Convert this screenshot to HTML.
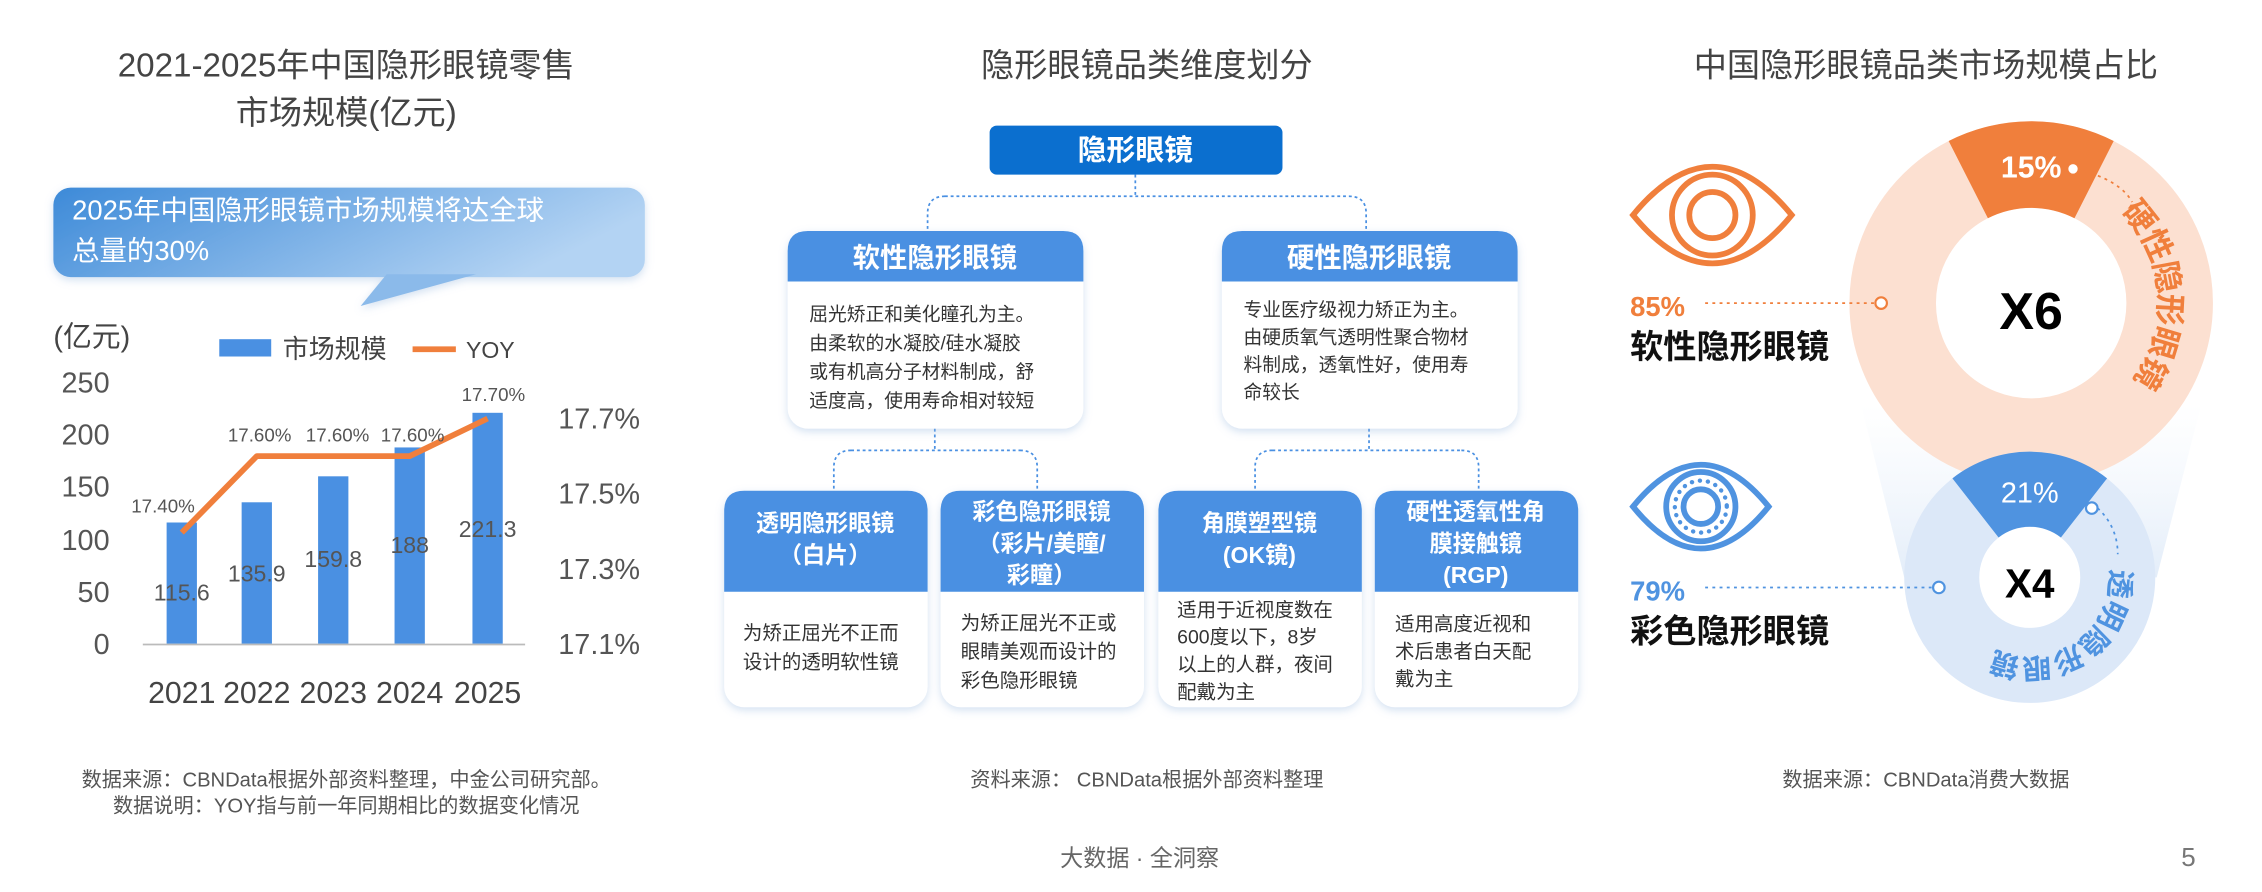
<!DOCTYPE html>
<html><head><meta charset="utf-8"><style>
html,body{margin:0;padding:0;background:#fff;}
svg{display:block;}
text{font-family:"Liberation Sans","Noto Sans CJK SC",sans-serif;}
</style></head><body>
<svg width="2262" height="892" viewBox="0 0 1568 618" preserveAspectRatio="none" xmlns="http://www.w3.org/2000/svg">
<defs>
<linearGradient id="cg" x1="0" y1="0" x2="1" y2="0.3"><stop offset="0" stop-color="#3d8ad8"/><stop offset="1" stop-color="#b3d3f3"/></linearGradient>
<linearGradient id="fb" x1="0" y1="0" x2="0" y2="1"><stop offset="0" stop-color="#eef4fc" stop-opacity="0"/><stop offset="1" stop-color="#e3edf9"/></linearGradient>
<filter id="sh" x="-10%" y="-10%" width="120%" height="130%"><feDropShadow dx="0" dy="2" stdDeviation="3" flood-color="#9bbbe0" flood-opacity="0.45"/></filter>
<path id="arcA" d="M1475.9,142.1 A96,96 0 0 1 1475.9,277.9"/>
<path id="arcB" d="M1468.8,394.6 A62,62 0 0 1 1371.4,450.8"/>
</defs>

<!-- LEFT PANEL -->
<g fill="#444" font-size="23" text-anchor="middle">
<text x="240" y="53">2021-2025年中国隐形眼镜零售</text>
<text x="240" y="86">市场规模(亿元)</text>
</g>
<g filter="url(#sh)">
<rect x="37" y="130" width="410" height="62" rx="12" fill="url(#cg)"/>
<polygon points="268,190 330,190 250,212" fill="#8bbaea"/>
</g>
<g fill="#fff" font-size="19">
<text x="50" y="152">2025年中国隐形眼镜市场规模将达全球</text>
<text x="50" y="180">总量的30%</text>
</g>
<text x="37" y="240" font-size="20" fill="#444">(亿元)</text>
<rect x="152" y="235" width="36" height="12" fill="#4a90e2"/>
<text x="196" y="248" font-size="18" fill="#444">市场规模</text>
<line x1="286" y1="242" x2="316" y2="242" stroke="#f07f3c" stroke-width="4"/>
<text x="323" y="248" font-size="16" fill="#444">YOY</text>
<g font-size="20" fill="#555" text-anchor="end">
<text x="76" y="272">250</text><text x="76" y="308">200</text><text x="76" y="344">150</text>
<text x="76" y="381">100</text><text x="76" y="417">50</text><text x="76" y="453">0</text>
</g>
<g fill="#4a90e2">
<rect x="115.5" y="362" width="21" height="84"/>
<rect x="167.5" y="348" width="21" height="98"/>
<rect x="220.5" y="330" width="21" height="116"/>
<rect x="273.5" y="310" width="21" height="136"/>
<rect x="327.5" y="286" width="21" height="160"/>
</g>
<line x1="99" y1="446.5" x2="364" y2="446.5" stroke="#bbb" stroke-width="1.2"/>
<g font-size="16" fill="#555" text-anchor="middle">
<text x="126" y="416">115.6</text><text x="178" y="403">135.9</text><text x="231" y="393">159.8</text>
<text x="284" y="383">188</text><text x="338" y="372">221.3</text>
</g>
<polyline points="126,369 178,316 231,316 284,316 338,290" fill="none" stroke="#f07f3c" stroke-width="4" stroke-linejoin="round"/>
<g font-size="13" fill="#555" text-anchor="middle">
<text x="113" y="355">17.40%</text><text x="180" y="306">17.60%</text><text x="234" y="306">17.60%</text>
<text x="286" y="306">17.60%</text><text x="342" y="278">17.70%</text>
</g>
<g font-size="20" fill="#555">
<text x="387" y="297">17.7%</text><text x="387" y="349">17.5%</text><text x="387" y="401">17.3%</text><text x="387" y="453">17.1%</text>
</g>
<g font-size="21" fill="#444" text-anchor="middle">
<text x="126" y="487">2021</text><text x="178" y="487">2022</text><text x="231" y="487">2023</text><text x="284" y="487">2024</text><text x="338" y="487">2025</text>
</g>
<g font-size="14" fill="#555" text-anchor="middle">
<text x="240" y="545">数据来源：CBNData根据外部资料整理，中金公司研究部。</text>
<text x="240" y="563">数据说明：YOY指与前一年同期相比的数据变化情况</text>
</g>

<!-- MIDDLE PANEL -->
<text x="795" y="53" font-size="23" fill="#444" text-anchor="middle">隐形眼镜品类维度划分</text>
<g fill="none" stroke="#4a90e2" stroke-width="1.2" stroke-dasharray="2,2">
<path d="M787,121 V136 M655,136 H935 M655,136 Q643,136 643,148 V160 M935,136 Q947,136 947,148 V160"/>
<path d="M648,297 V312 M590,312 H707 M590,312 Q578,312 578,324 V340 M707,312 Q719,312 719,324 V340"/>
<path d="M949,297 V312 M882,312 H1013 M882,312 Q870,312 870,324 V340 M1013,312 Q1025,312 1025,324 V340"/>
</g>
<rect x="686" y="87" width="203" height="34" rx="5" fill="#0b6fcf"/>
<text x="787" y="111" font-size="20" font-weight="bold" fill="#fff" text-anchor="middle">隐形眼镜</text>

<g filter="url(#sh)">
<rect x="546" y="160" width="205" height="137" rx="14" fill="#fff"/>
<rect x="847" y="160" width="205" height="137" rx="14" fill="#fff"/>
<rect x="502" y="340" width="141" height="150" rx="14" fill="#fff"/>
<rect x="652" y="340" width="141" height="150" rx="14" fill="#fff"/>
<rect x="803" y="340" width="141" height="150" rx="14" fill="#fff"/>
<rect x="953" y="340" width="141" height="150" rx="14" fill="#fff"/>
</g>
<g fill="#4a90e2">
<path d="M546,195 V174 Q546,160 560,160 H737 Q751,160 751,174 V195 Z"/>
<path d="M847,195 V174 Q847,160 861,160 H1038 Q1052,160 1052,174 V195 Z"/>
<path d="M502,410 V354 Q502,340 516,340 H629 Q643,340 643,354 V410 Z"/>
<path d="M652,410 V354 Q652,340 666,340 H779 Q793,340 793,354 V410 Z"/>
<path d="M803,410 V354 Q803,340 817,340 H930 Q944,340 944,354 V410 Z"/>
<path d="M953,410 V354 Q953,340 967,340 H1080 Q1094,340 1094,354 V410 Z"/>
</g>
<g font-size="19" font-weight="bold" fill="#fff" text-anchor="middle">
<text x="648" y="185">软性隐形眼镜</text>
<text x="949" y="185">硬性隐形眼镜</text>
</g>
<g font-size="13" fill="#333">
<text x="561" y="222">屈光矫正和美化瞳孔为主。</text>
<text x="561" y="242">由柔软的水凝胶/硅水凝胶</text>
<text x="561" y="262">或有机高分子材料制成，舒</text>
<text x="561" y="282">适度高，使用寿命相对较短</text>
<text x="862" y="219">专业医疗级视力矫正为主。</text>
<text x="862" y="238">由硬质氧气透明性聚合物材</text>
<text x="862" y="257">料制成，透氧性好，使用寿</text>
<text x="862" y="276">命较长</text>
</g>
<g font-size="16" font-weight="bold" fill="#fff" text-anchor="middle">
<text x="572" y="368">透明隐形眼镜</text><text x="572" y="390">（白片）</text>
<text x="722" y="360">彩色隐形眼镜</text><text x="722" y="382">（彩片/美瞳/</text><text x="722" y="404">彩瞳）</text>
<text x="873" y="368">角膜塑型镜</text><text x="873" y="390">(OK镜)</text>
<text x="1023" y="360">硬性透氧性角</text><text x="1023" y="382">膜接触镜</text><text x="1023" y="404">(RGP)</text>
</g>
<g font-size="13.5" fill="#333">
<text x="515" y="443">为矫正屈光不正而</text><text x="515" y="463">设计的透明软性镜</text>
<text x="666" y="436">为矫正屈光不正或</text><text x="666" y="456">眼睛美观而设计的</text><text x="666" y="476">彩色隐形眼镜</text>
<text x="816" y="427">适用于近视度数在</text><text x="816" y="446">600度以下，8岁</text><text x="816" y="465">以上的人群，夜间</text><text x="816" y="484">配戴为主</text>
<text x="967" y="437">适用高度近视和</text><text x="967" y="456">术后患者白天配</text><text x="967" y="475">戴为主</text>
</g>
<text x="795" y="545" font-size="14" fill="#555" text-anchor="middle">资料来源： CBNData根据外部资料整理</text>

<!-- RIGHT PANEL -->
<text x="1335" y="53" font-size="23" fill="#444" text-anchor="middle">中国隐形眼镜品类市场规模占比</text>
<polygon points="1290,280 1526,280 1495,400 1320,400" fill="url(#fb)"/>
<circle cx="1408" cy="210" r="96" fill="none" stroke="#fce0d1" stroke-width="60"/>
<path d="M1350.8,97.7 A126,126 0 0 1 1465.2,97.7 L1438,151.2 A66,66 0 0 0 1378,151.2 Z" fill="#f07f3c"/>
<circle cx="1407" cy="400" r="61" fill="#fff" stroke="#dce8f8" stroke-width="52"/>
<path d="M1353.4,331.4 A87,87 0 0 1 1460.6,331.4 L1428.6,372.4 A35,35 0 0 0 1385.4,372.4 Z" fill="#4f93e0"/>
<text x="1408" y="123" font-size="21" font-weight="bold" fill="#fff" text-anchor="middle">15%</text>
<text x="1407" y="348" font-size="20" fill="#fff" text-anchor="middle">21%</text>
<text x="1408" y="228" font-size="36" font-weight="bold" fill="#000" text-anchor="middle">X6</text>
<text x="1407" y="414" font-size="28" font-weight="bold" fill="#000" text-anchor="middle">X4</text>
<text font-size="22" font-weight="bold" fill="#f07f3c" dominant-baseline="central" letter-spacing="1"><textPath href="#arcA">硬性隐形眼镜</textPath></text>
<text font-size="20" font-weight="bold" fill="#4f93e0" dominant-baseline="central" letter-spacing="2"><textPath href="#arcB">透明隐形眼镜</textPath></text>
<!-- connectors -->
<g fill="none" stroke-width="1.2" stroke-dasharray="2,3">
<line x1="1182" y1="210" x2="1300" y2="210" stroke="#f07f3c"/>
<path d="M1440,117 Q1470,125 1478,140" stroke="#f07f3c"/>
<line x1="1182" y1="407" x2="1340" y2="407" stroke="#4f93e0"/>
<path d="M1454,352 Q1468,365 1468,384" stroke="#4f93e0"/>
</g>
<circle cx="1304" cy="210" r="4" fill="#fff" stroke="#f07f3c" stroke-width="1.5"/>
<circle cx="1437" cy="117" r="4" fill="#fff" stroke="#f07f3c" stroke-width="1.5"/>
<circle cx="1344" cy="407" r="4" fill="#fff" stroke="#4f93e0" stroke-width="1.5"/>
<circle cx="1450" cy="352" r="4" fill="#fff" stroke="#4f93e0" stroke-width="1.5"/>
<!-- eyes -->
<g fill="none" stroke="#f07f3c" stroke-width="4">
<path d="M1132,149 Q1187,82 1242,149 Q1187,216 1132,149 Z"/>
<circle cx="1187" cy="149" r="28"/>
<circle cx="1187" cy="149" r="16"/>
</g>
<g fill="none" stroke="#4f93e0" stroke-width="4">
<path d="M1132,351 Q1179,293 1226,351 Q1179,409 1132,351 Z"/>
<circle cx="1179" cy="351" r="24"/>
<circle cx="1179" cy="351" r="12"/>
<circle cx="1179" cy="351" r="18" stroke-width="3" stroke-dasharray="0.1,5.5" stroke-linecap="round"/>
</g>
<text x="1130" y="219" font-size="19" font-weight="bold" fill="#f07f3c">85%</text>
<text x="1130" y="248" font-size="23" font-weight="bold" fill="#111">软性隐形眼镜</text>
<text x="1130" y="416" font-size="19" font-weight="bold" fill="#4f93e0">79%</text>
<text x="1130" y="445" font-size="23" font-weight="bold" fill="#111">彩色隐形眼镜</text>
<text x="1335" y="545" font-size="14" fill="#555" text-anchor="middle">数据来源：CBNData消费大数据</text>

<!-- footer -->
<text x="790" y="600" font-size="16" fill="#666" text-anchor="middle">大数据 · 全洞察</text>
<text x="1517" y="600" font-size="18" fill="#777" text-anchor="middle">5</text>
</svg>
</body></html>
